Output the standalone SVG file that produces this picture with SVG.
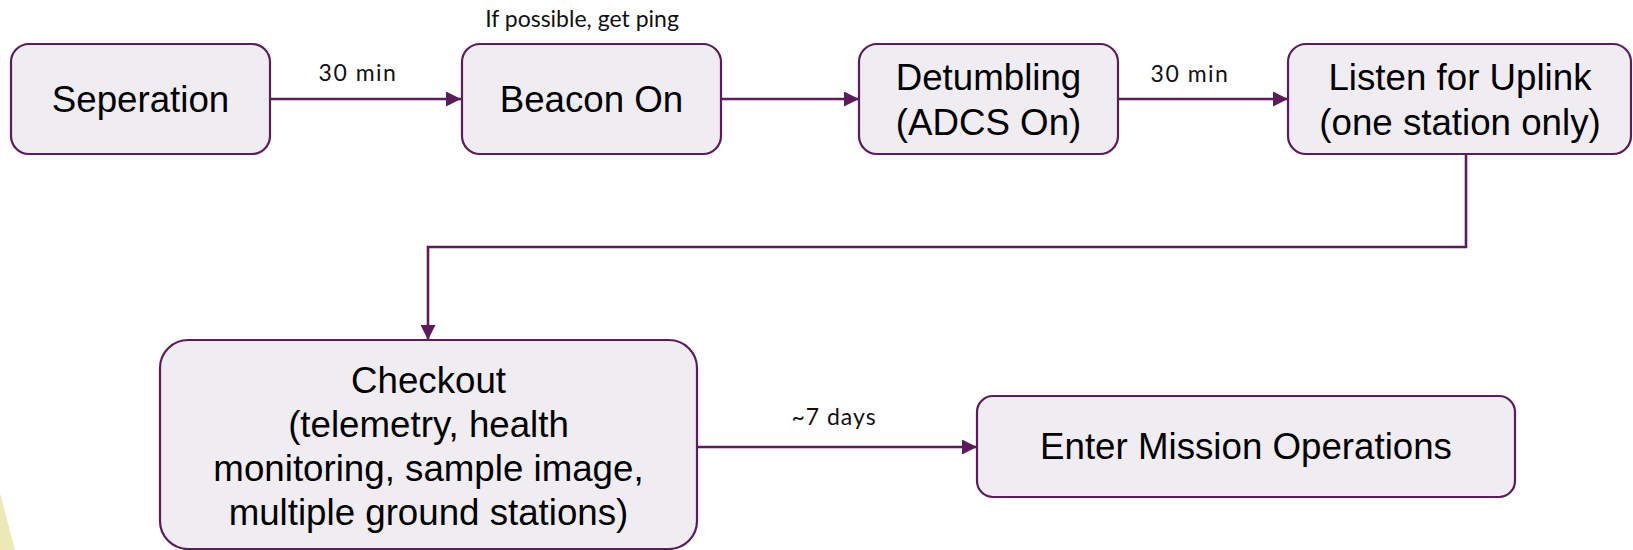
<svg xmlns="http://www.w3.org/2000/svg" width="1633" height="550" viewBox="0 0 1633 550">
<style>
.box{fill:#efedf1;stroke:#5e1b5b;stroke-width:2.2}
.t{font-family:"Liberation Sans",Arial,sans-serif;font-size:36.7px;fill:#000;text-anchor:middle}
.lbl{font-family:Lato,"Open Sans",sans-serif;font-size:23px;fill:#111;text-anchor:middle}
.c{fill:none;stroke:#5e1b5b;stroke-width:2.6}
</style>
<defs>
<marker id="ah" markerWidth="15" markerHeight="15" viewBox="0 0 15 15" refX="15" refY="7.5" orient="auto" markerUnits="userSpaceOnUse">
<path d="M0,0 L15,7.5 L0,15 Z" fill="#5e1b5b"/>
</marker>
</defs>
<polygon points="0,493 15,550 0,550" fill="#ede8b8"/>
<g id="connectors">
<path class="c" d="M270,99 H461" marker-end="url(#ah)"/>
<path class="c" d="M721,99 H859" marker-end="url(#ah)"/>
<path class="c" d="M1118,99 H1288" marker-end="url(#ah)"/>
<path class="c" d="M1466,154 V247 H428 V340" marker-end="url(#ah)"/>
<path class="c" d="M697,447 H977" marker-end="url(#ah)"/>
<text class="lbl" x="358" y="81" letter-spacing="1.5">30 min</text>
<text class="lbl" x="582" y="27">If possible, get ping</text>
<text class="lbl" x="1190" y="82" letter-spacing="1.5">30 min</text>
<text class="lbl" x="834" y="425" letter-spacing="1">~7 days</text>
</g>
<g id="seperation">
<rect class="box" x="11" y="44" width="259" height="110" rx="18"/>
<text class="t" x="140.5" y="112">Seperation</text>
</g>
<g id="beacon">
<rect class="box" x="462" y="44" width="259" height="110" rx="18"/>
<text class="t" x="591.5" y="112">Beacon On</text>
</g>
<g id="detumbling">
<rect class="box" x="859" y="44" width="259" height="110" rx="18"/>
<text class="t" x="988.5" y="90">Detumbling</text>
<text class="t" x="988.5" y="135">(ADCS On)</text>
</g>
<g id="listen">
<rect class="box" x="1288" y="44" width="343" height="110" rx="18"/>
<text class="t" x="1460" y="90">Listen for Uplink</text>
<text class="t" x="1460" y="135">(one station only)</text>
</g>
<g id="checkout">
<rect class="box" x="160" y="340" width="537" height="209" rx="28"/>
<text class="t" x="428.5" y="393">Checkout</text>
<text class="t" x="428.5" y="437">(telemetry, health</text>
<text class="t" x="428.5" y="481">monitoring, sample image,</text>
<text class="t" x="428.5" y="525">multiple ground stations)</text>
</g>
<g id="mission">
<rect class="box" x="977" y="396" width="538" height="101" rx="16"/>
<text class="t" x="1246" y="459">Enter Mission Operations</text>
</g>
</svg>
